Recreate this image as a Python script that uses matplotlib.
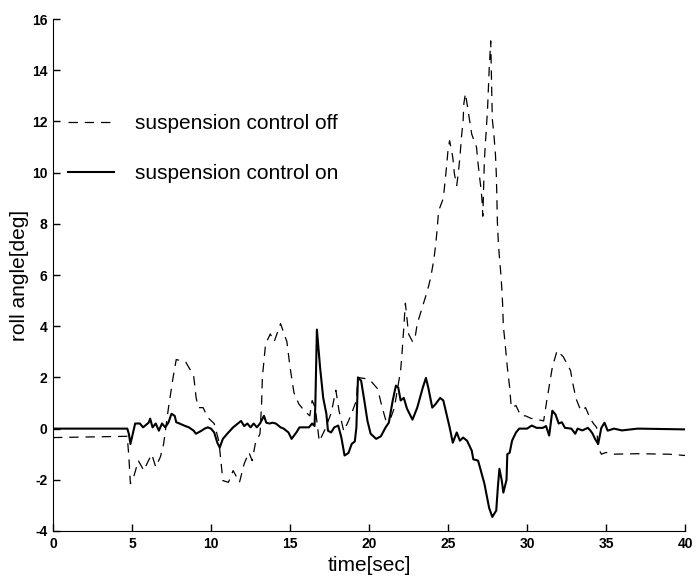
import numpy as np
import matplotlib
matplotlib.use("Agg")
import matplotlib.pyplot as plt

plt.rcParams['font.family'] = ['Liberation Sans', 'DejaVu Sans']
plt.rcParams['axes.unicode_minus'] = False

# suspension control off (dashed)
t_off = [0.0, 4.7, 4.8, 4.9, 5.1, 5.4, 5.75, 6.0, 6.25, 6.5, 6.8, 7.0, 7.3, 7.6, 7.8,
         8.1, 8.4, 8.9, 9.06, 9.2, 9.5, 9.8, 10.2, 10.5, 10.75, 11.1, 11.4, 11.8, 12.1,
         12.4, 12.6, 12.8, 13.1, 13.2, 13.25, 13.45, 13.75, 14.0, 14.2, 14.4, 14.8, 15.0,
         15.25, 15.55, 15.9, 16.25, 16.4, 16.6, 16.85, 17.2, 17.6, 17.9, 18.1, 18.4, 18.7,
         18.9, 19.2, 19.3, 19.8, 20.1, 20.55, 20.8, 21.05, 21.3, 21.6, 21.8, 22.0, 22.1,
         22.2, 22.3, 22.5, 22.75, 22.9, 23.05, 23.4, 23.7, 23.9, 24.1, 24.2, 24.3, 24.4,
         24.7, 24.8, 24.9, 25.0, 25.1, 25.3, 25.4, 25.55, 25.65, 25.75, 25.85, 25.95, 26.0,
         26.1, 26.25, 26.5, 26.8, 26.9, 27.0, 27.1, 27.15, 27.2, 27.3, 27.4, 27.5, 27.55,
         27.6, 27.65, 27.7, 27.8, 27.9, 28.0, 28.05, 28.08, 28.12, 28.18, 28.25, 28.32,
         28.4, 28.45, 28.5, 28.6, 28.75, 28.9, 29.0, 29.3, 29.6, 29.9, 30.25, 30.7, 31.05,
         31.25, 31.6, 31.9, 32.3, 32.75, 32.9, 33.1, 33.4, 33.7, 34.0, 34.2, 34.4, 34.5,
         34.7, 35.0, 35.4, 37.0, 39.0, 40.0]
roll_off = [-0.35, -0.3, -1.1, -2.15, -1.9, -1.25, -1.64, -1.3, -1.0, -1.5, -1.1, -0.6, 0.78,
            2.0, 2.7, 2.65, 2.6, 2.07, 1.2, 0.82, 0.82, 0.43, 0.2, -0.5, -2.03, -2.1, -1.64,
            -2.1, -1.37, -0.93, -1.25, -0.6, -0.2, 0.97, 2.0, 3.3, 3.7, 3.4, 3.75, 4.1, 3.4,
            2.4, 1.4, 0.97, 0.7, 0.5, 1.1, 0.8, -0.5, -0.05, 0.6, 1.5, 0.7, -0.1, 0.3, 0.6,
            1.1, 2.0, 1.95, 1.87, 1.55, 0.9, 0.35, 0.3, 0.8, 1.55, 2.27, 3.05, 3.95, 4.9,
            3.7, 3.4, 3.5, 4.1, 4.8, 5.4, 5.9, 6.6, 7.1, 7.7, 8.5, 9.0, 9.6, 10.2, 10.9,
            11.25, 10.6, 9.96, 9.5, 10.0, 10.6, 11.4, 12.0, 12.7, 13.1, 12.5, 11.5, 11.0,
            10.35, 9.8, 9.3, 8.9, 8.3, 10.5, 11.5, 12.5, 13.3, 14.0, 14.6, 15.15, 12.1,
            11.5, 10.7, 10.0, 9.3, 8.1, 7.3, 6.7, 6.2, 5.5, 4.9, 4.0, 3.4, 2.4, 1.6, 0.82,
            0.9, 0.5, 0.5, 0.4, 0.35, 0.3, 1.1, 2.4, 3.05, 2.8, 2.27, 1.75, 1.17, 0.7, 0.82,
            0.39, 0.2, 0.05, -0.74, -1.0, -0.93, -1.0, -0.98, -1.0, -1.05]

# suspension control on (solid)
t_on = [0.0, 4.7, 4.8, 4.9, 5.2, 5.5, 5.7, 6.05, 6.15, 6.3, 6.5, 6.7, 6.9, 7.1, 7.3, 7.5,
        7.7, 7.8, 8.0, 8.3, 8.6, 8.9, 9.05, 9.4, 9.6, 9.8, 10.0, 10.2, 10.4, 10.55, 10.75,
        11.1, 11.4, 11.7, 11.9, 12.1, 12.3, 12.5, 12.7, 12.9, 13.1, 13.35, 13.5, 13.7,
        13.9, 14.1, 14.4, 14.6, 14.9, 15.1, 15.4, 15.6, 15.9, 16.2, 16.4, 16.55, 16.6,
        16.7, 16.9, 17.1, 17.3, 17.4, 17.6, 17.8, 18.05, 18.25, 18.45, 18.7, 18.9, 19.1,
        19.2, 19.3, 19.5, 19.7, 19.9, 20.1, 20.45, 20.75, 21.05, 21.25, 21.5, 21.7, 21.85,
        22.0, 22.2, 22.4, 22.75, 23.05, 23.4, 23.6, 23.75, 24.0, 24.2, 24.5, 24.7, 24.9,
        25.1, 25.3, 25.55, 25.75, 25.95, 26.2, 26.5, 26.6, 26.9, 27.3, 27.6, 27.8, 28.05,
        28.15, 28.25, 28.4, 28.5, 28.7, 28.75, 28.9, 29.05, 29.3, 29.5, 30.0, 30.3, 30.6,
        31.0, 31.2, 31.4, 31.6, 31.8, 32.0, 32.2, 32.4, 32.8, 33.05, 33.2, 33.5, 33.85,
        34.0, 34.15, 34.3, 34.5, 34.7, 34.9, 35.1, 35.5, 36.0, 37.0, 40.0]
roll_on = [0.0, 0.0, -0.2, -0.6, 0.2, 0.2, 0.05, 0.23, 0.39, 0.05, 0.2, -0.08, 0.2, 0.05,
           0.23, 0.58, 0.5, 0.25, 0.2, 0.12, 0.05, -0.08, -0.2, -0.08, 0.0, 0.05, 0.0,
           -0.15, -0.55, -0.74, -0.4, -0.15, 0.05, 0.2, 0.3, 0.1, 0.2, 0.05, 0.2, 0.05, 0.2,
           0.5, 0.23, 0.2, 0.23, 0.2, 0.05, 0.0, -0.15, -0.4, -0.15, 0.05, 0.05, 0.05, 0.2,
           0.1, 0.9, 3.87, 2.4, 1.2, 0.58, -0.08, -0.15, 0.05, 0.12, -0.35, -1.05, -0.95,
           -0.6, -0.5, 0.05, 2.0, 1.87, 1.1, 0.3, -0.2, -0.4, -0.3, 0.05, 0.23, 1.1, 1.68,
           1.6, 1.1, 1.2, 0.78, 0.35, 0.82, 1.6, 1.98, 1.6, 0.82, 0.95, 1.2, 1.1, 0.58,
           0.05, -0.55, -0.15, -0.47, -0.35, -0.47, -0.86, -1.2, -1.25, -2.15, -3.1, -3.45,
           -3.2, -2.3, -1.57, -2.03, -2.5, -2.0, -1.0, -0.94, -0.47, -0.15, 0.0, 0.0, 0.12,
           0.03, 0.03, 0.1, -0.27, 0.7, 0.55, 0.2, 0.25, 0.03, 0.0, -0.2, 0.0, -0.07, 0.03,
           -0.07, -0.2, -0.4, -0.6, 0.03, 0.23, -0.08, 0.0, -0.07, 0.0, -0.03]

x_ticks = np.arange(0, 41, 5)
y_ticks = np.arange(-4, 17, 2)

fig = plt.figure(figsize=(7, 5.83), dpi=100)
ax = fig.add_axes([0.0757, 0.0892, 0.903, 0.878])

ax.plot(t_off, roll_off, color='black', lw=0.9, dashes=(7.5, 5.5),
        label='suspension control off')
ax.plot(t_on, roll_on, color='black', lw=1.5, label='suspension control on')

ax.set_xlim(0, 40)
ax.set_ylim(-4, 16)
ax.set_xticks(x_ticks)
ax.set_yticks(y_ticks)
ax.tick_params(direction='in', length=5, width=1, labelsize=10, pad=4)
for lab in ax.get_xticklabels() + ax.get_yticklabels():
    lab.set_fontweight('bold')
ax.spines['top'].set_visible(False)
ax.spines['right'].set_visible(False)

ax.set_xlabel('time[sec]', fontsize=15, labelpad=4)
ax.set_ylabel('roll angle[deg]', fontsize=15, labelpad=2)

ax.legend(loc='upper left', bbox_to_anchor=(0.024, 0.815), frameon=False,
          fontsize=15, handlelength=2.2, handletextpad=1.0, labelspacing=1.5,
          borderpad=0, borderaxespad=0)

fig.savefig('out.png', dpi=100)
